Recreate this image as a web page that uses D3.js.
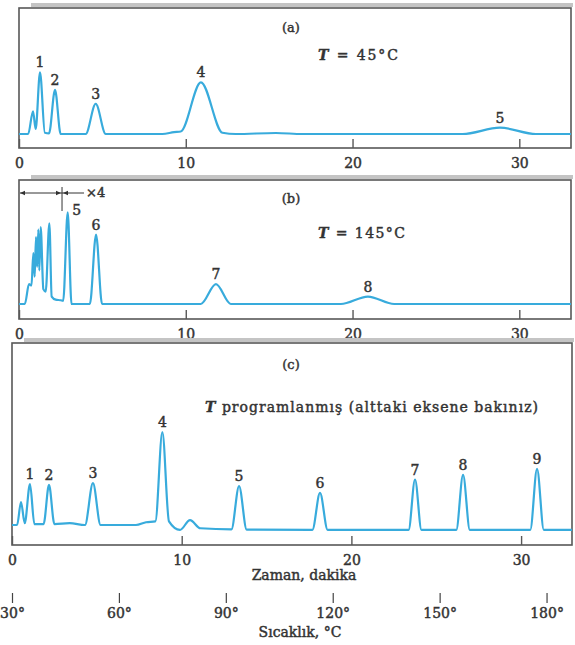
<!DOCTYPE html>
<html>
<head>
<meta charset="utf-8">
<script src="https://cdn.jsdelivr.net/npm/d3@7.9.0/dist/d3.min.js"></script>
<style>
  body { margin: 0; background: #fff; }
  svg { display: block; font-family: "DejaVu Serif", "Liberation Serif", serif; }
  text { stroke: #333; stroke-width: 0.45px; }
</style>
</head>
<body>
<svg id="chart" width="575" height="645"></svg>
<script>
// chromatogram traces, [time in minutes, detector signal]
const traceA = [
  [0, 0], [0.55, 0], [0.84, 18], [1.0, 4], [1.26, 49], [1.55, 1], [1.8, 0.5],
  [2.16, 35], [2.5, 0], [4.0, 0], [4.6, 24], [5.2, 0], [8.6, 0], [9.3, 1.5],
  [9.7, 2], [10.91, 41], [12.2, 1], [13, 0], [15.4, 0.8], [17, 0], [26.6, 0],
  [28.84, 5], [31, 0], [33.1, 0]
];
const traceB = [
  [0, 0], [0.35, 0], [0.6, 16], [0.75, 15], [0.86, 41], [0.94, 22], [1.02, 54],
  [1.09, 30], [1.16, 60], [1.22, 27], [1.3, 62], [1.46, 12], [1.6, 10], [1.82, 65],
  [1.96, 6], [2.2, 3.5], [2.5, 3], [2.65, 2.5], [2.92, 74], [3.15, 0], [4.25, 0],
  [4.62, 56], [4.98, 0], [10.9, 0], [11.81, 16], [12.7, 0], [19.3, 0], [20.92, 6],
  [22.5, 0], [33.1, 0]
];
const traceC = [
  [0, 0], [0.3, 0], [0.53, 12.6], [0.75, 1], [1.06, 22.5], [1.32, 0.5], [1.86, 0.5],
  [2.18, 22], [2.5, 0.5], [3.4, 1], [4.3, 0], [4.77, 23], [5.22, 0], [7.3, 0],
  [7.9, 1.5], [8.45, 2], [8.86, 51], [9.25, 2], [9.9, -2.7], [10.49, 2.7], [11.1, -1.8],
  [12.93, -2.4], [13.38, 21.4], [13.83, -2.5], [17.7, -2.7], [18.15, 17.6], [18.6, -2.7],
  [23.37, -2.7], [23.75, 25], [24.13, -2.7], [26.18, -2.7], [26.58, 27.5], [26.98, -2.7],
  [30.54, -2.7], [30.94, 30.8], [31.34, -2.7], [33, -2.7]
];

const peakLabelsA = ["1", "2", "3", "4", "5"];
const peakTimesA = [1.26, 2.16, 4.6, 10.91, 28.84];
const peakLabelsB = ["5", "6", "7", "8"];
const peakTimesB = [2.92, 4.62, 11.81, 20.92];
const peakLabelsC = ["1", "2", "3", "4", "5", "6", "7", "8", "9"];
const peakTimesC = [1.06, 2.18, 4.77, 8.86, 13.38, 18.15, 23.75, 26.58, 30.94];

const timeTicks = [0, 10, 20, 30];
const tempTicks = [30, 60, 90, 120, 150, 180];
const tempEndTime = 31.5; // time at which 180° is reached on the lower scale
const attenEndTime = 2.58; // end of the x4 attenuated region in (b)

const svg = d3.select("#chart");
const lineColor = "#38abdc";
const frameColor = "#585858";
const textColor = "#333";

const panels = [
  {
    trace: traceA, labels: peakLabelsA, times: peakTimesA,
    left: 19, right: 571, top: 8, bottom: 148, base: 134, tmax: 33.1,
    tag: "(a)", tagY: 32, titleY: 60, titleX: 318, title: " = 45°C", titleLen: 80,
    nudge: []
  },
  {
    trace: traceB, labels: peakLabelsB, times: peakTimesB,
    left: 19, right: 571, top: 180, bottom: 319, base: 304, tmax: 33.1,
    tag: "(b)", tagY: 203, titleY: 238, titleX: 318, title: " = 145°C", titleLen: 87,
    nudge: [[9, 8]]
  },
  {
    trace: traceC, labels: peakLabelsC, times: peakTimesC,
    left: 12, right: 572, top: 343, bottom: 545, base: 525, tmax: 33,
    tag: "(c)", tagY: 369, titleY: 412, titleX: 205,
    title: " programlanmış (alttaki eksene bakınız)", titleLen: 333,
    nudge: []
  }
];

const xScales = [];

panels.forEach((p) => {
  const x = d3.scaleLinear().domain([0, p.tmax]).range([p.left, p.right]);
  const y = d3.scaleLinear().domain([0, 100]).range([p.base, p.top]);
  xScales.push(x);

  // scanned-page shading above the frame
  svg.append("rect")
    .attr("x", p.left + 12).attr("y", p.top - 5)
    .attr("width", p.right - p.left - 10).attr("height", 4)
    .attr("fill", "#c4c4c4");

  svg.append("rect")
    .attr("x", p.left).attr("y", p.top)
    .attr("width", p.right - p.left).attr("height", p.bottom - p.top)
    .attr("fill", "none").attr("stroke", frameColor).attr("stroke-width", 1.6);

  const axis = svg.append("g")
    .attr("transform", `translate(0,${p.bottom})`)
    .call(d3.axisBottom(x).tickValues(timeTicks).tickSize(-9).tickPadding(10));
  axis.select(".domain").remove();
  axis.selectAll(".tick line").attr("stroke", frameColor).attr("stroke-width", 1.4);
  axis.selectAll(".tick text")
    .attr("font-size", 14).attr("font-family", "DejaVu Serif").attr("fill", textColor);

  const line = d3.line()
    .x(d => x(d[0]))
    .y(d => y(d[1]))
    .curve(d3.curveMonotoneX);

  svg.append("path")
    .datum(p.trace)
    .attr("d", line)
    .attr("fill", "none")
    .attr("stroke", lineColor)
    .attr("stroke-width", 2.2)
    .attr("stroke-linejoin", "round");

  // peak numbers above each apex
  svg.append("g").selectAll("text")
    .data(p.labels)
    .join("text")
    .attr("x", (d, i) => x(p.times[i]) + ((p.nudge[i] || [0, 0])[0]))
    .attr("y", (d, i) => {
      const apex = p.trace.reduce((a, b) =>
        Math.abs(b[0] - p.times[i]) < Math.abs(a[0] - p.times[i]) ? b : a);
      return y(apex[1]) - 5 + ((p.nudge[i] || [0, 0])[1]);
    })
    .attr("text-anchor", "middle")
    .attr("font-size", 14)
    .attr("fill", textColor)
    .text(d => d);

  svg.append("text")
    .attr("x", 291).attr("y", p.tagY)
    .attr("text-anchor", "middle")
    .attr("font-size", 13)
    .attr("fill", textColor)
    .text(p.tag);

  const title = svg.append("text")
    .attr("x", p.titleX).attr("y", p.titleY)
    .attr("font-size", 14)
    .attr("textLength", p.titleLen)
    .attr("fill", textColor);
  title.append("tspan").attr("font-style", "italic").attr("font-weight", "bold").text("T");
  title.append("tspan").text(p.title);
});

// x4 attenuation marker in (b)
const xb = xScales[1];
const mark = svg.append("g").attr("stroke", "#333").attr("stroke-width", 1).attr("fill", "#333");
const my = 193;
mark.append("line").attr("x1", xb(0) + 1).attr("x2", xb(attenEndTime) + 22).attr("y1", my).attr("y2", my);
mark.append("line").attr("x1", xb(attenEndTime)).attr("x2", xb(attenEndTime)).attr("y1", 187).attr("y2", 211);
const arrow = (tip, dir) => {
  mark.append("path")
    .attr("d", `M${tip},${my} L${tip - dir * 5},${my - 2.2} L${tip - dir * 5},${my + 2.2} Z`)
    .attr("stroke", "none");
};
arrow(xb(0) + 1, -1);
arrow(xb(attenEndTime) - 1, 1);
arrow(xb(attenEndTime) + 1, -1);
svg.append("text")
  .attr("x", xb(attenEndTime) + 24).attr("y", 197)
  .attr("font-size", 13).attr("fill", textColor)
  .text("×4");

// time axis title and temperature scale under (c)
const xc = xScales[2];
svg.append("text")
  .attr("x", 304).attr("y", 580)
  .attr("text-anchor", "middle")
  .attr("font-size", 14).attr("fill", textColor)
  .text("Zaman, dakika");

const tempScale = d3.scaleLinear()
  .domain([tempTicks[0], tempTicks[tempTicks.length - 1]])
  .range([xc(0), xc(tempEndTime)]);

const tAxis = svg.append("g")
  .attr("transform", "translate(0,593)")
  .call(d3.axisBottom(tempScale).tickValues(tempTicks).tickSize(10).tickPadding(5)
    .tickFormat(d => d + "°"));
tAxis.select(".domain").remove();
tAxis.selectAll(".tick line").attr("stroke", "#444").attr("stroke-width", 1.2);
tAxis.selectAll(".tick text")
  .attr("font-size", 14).attr("font-family", "DejaVu Serif").attr("fill", textColor);

svg.append("text")
  .attr("x", 300).attr("y", 637)
  .attr("text-anchor", "middle")
  .attr("font-size", 14).attr("fill", textColor)
  .text("Sıcaklık, °C");
</script>
</body>
</html>
